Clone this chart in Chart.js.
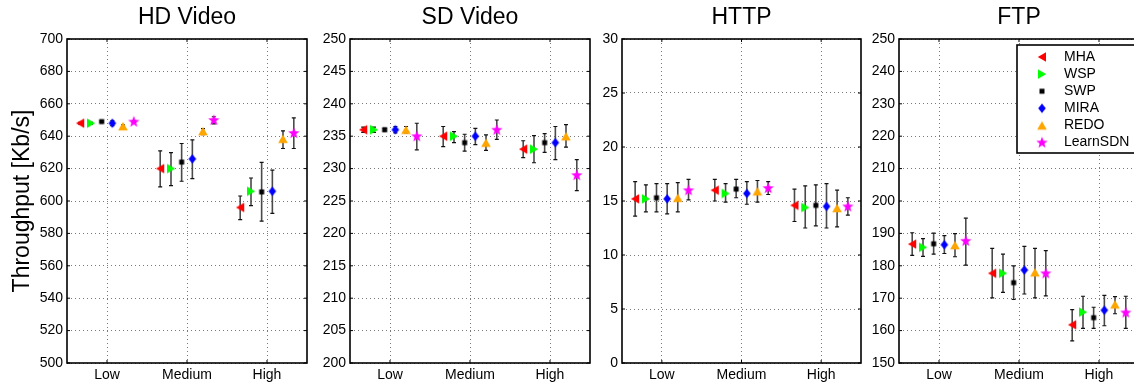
<!DOCTYPE html>
<html>
<head>
<meta charset="utf-8">
<script src="https://cdn.jsdelivr.net/npm/chart.js@4.4.1/dist/chart.umd.min.js"></script>
<style>
  html, body { margin: 0; padding: 0; background: #fff; overflow: hidden; width: 1134px; height: 382px; }
  .panel { position: absolute; top: 0; height: 382px; }
</style>
</head>
<body>
<div class="panel" style="left:0px"><canvas id="hd" width="313" height="382"></canvas></div>
<div class="panel" style="left:305px"><canvas id="sd" width="291" height="382"></canvas></div>
<div class="panel" style="left:577px"><canvas id="http" width="290" height="382"></canvas></div>
<div class="panel" style="left:854px"><canvas id="ftp" width="291" height="382"></canvas></div>
<script>
const categories = ["Low", "Medium", "High"];
const methods = ["MHA", "WSP", "SWP", "MIRA", "REDO", "LearnSDN"];

// one row per method, columns Low / Medium / High
const hdMean = [
  [648, 620, 596],
  [648, 620, 606],
  [649, 624, 605.6],
  [648, 626, 606],
  [646.2, 643.1, 638.4],
  [649, 650, 642]
];
const hdLo = [
  [647.5, 608.7, 588.5],
  [647.5, 609.5, 597.1],
  [648.5, 612.2, 587.6],
  [646.5, 613.8, 592.4],
  [645, 641, 632.4],
  [648.5, 647.6, 632.4]
];
const hdHi = [
  [648.5, 630.9, 603.1],
  [648.5, 629.9, 614.2],
  [649.5, 635.5, 623.9],
  [649.5, 637.7, 619],
  [647, 644.7, 643.3],
  [649.5, 652, 651.3]
];

const sdMean = [
  [236, 235, 233],
  [236, 235, 233],
  [236, 234, 234],
  [236, 235, 234],
  [236, 234, 235],
  [235, 236, 229]
];
const sdLo = [
  [235.6, 233.4, 231.7],
  [235.6, 234.0, 230.9],
  [235.8, 232.7, 232.5],
  [235.5, 233.7, 231.4],
  [235.5, 232.8, 233.3],
  [232.9, 234.5, 226.6]
];
const sdHi = [
  [236.4, 236.5, 234.3],
  [236.4, 235.7, 235.1],
  [236.2, 235.3, 235.4],
  [236.5, 236.2, 236.5],
  [236.5, 235.2, 236.8],
  [237.0, 237.5, 231.4]
];

const httpMean = [
  [15.2, 16.0, 14.6],
  [15.2, 15.7, 14.4],
  [15.3, 16.1, 14.6],
  [15.2, 15.7, 14.5],
  [15.3, 15.9, 14.35],
  [16.0, 16.2, 14.5]
];
const httpLo = [
  [13.6, 15.0, 13.1],
  [14.0, 14.9, 12.5],
  [14.0, 15.3, 12.7],
  [13.8, 14.7, 12.5],
  [14.0, 14.9, 12.6],
  [15.1, 15.6, 13.7]
];
const httpHi = [
  [16.8, 17.0, 16.1],
  [16.5, 16.6, 16.4],
  [16.6, 17.0, 16.5],
  [16.6, 16.8, 16.6],
  [16.7, 16.9, 16.0],
  [17.0, 16.8, 15.3]
];

const ftpMean = [
  [186.7, 177.7, 161.8],
  [185.7, 177.7, 165.7],
  [186.8, 174.8, 164.0],
  [186.5, 178.7, 166.3],
  [186.4, 178.0, 168.1],
  [187.7, 177.7, 165.6]
];
const ftpLo = [
  [183.2, 170.1, 156.8],
  [182.9, 171.8, 160.7],
  [183.6, 169.6, 160.7],
  [183.8, 171.3, 161.5],
  [182.8, 170.1, 165.2],
  [180.2, 170.7, 160.7]
];
const ftpHi = [
  [190.2, 185.4, 166.5],
  [188.4, 183.6, 170.6],
  [190.1, 180.0, 167.2],
  [189.3, 186.0, 170.9],
  [189.9, 185.4, 170.5],
  [194.7, 184.7, 170.6]
];

// dodge of each method around its category
const offsets = [-0.335, -0.2, -0.067, 0.067, 0.2, 0.335];
const colors = ["#ff0000", "#00ff00", "#000000", "#0000ff", "#ffa500", "#ff00ff"];
const shapes = ["left", "right", "square", "diamond", "up", "star"];

Chart.defaults.font.family = "'Liberation Sans', Arial, Helvetica, sans-serif";
Chart.defaults.color = "#000";

function marker(kind, color) {
  const c = document.createElement("canvas");
  c.width = 14; c.height = 14;
  const g = c.getContext("2d");
  g.fillStyle = color;
  g.beginPath();
  if (kind === "left") {
    g.moveTo(2.8, 7); g.lineTo(11, 2.3); g.lineTo(11, 11.7);
  } else if (kind === "right") {
    g.moveTo(11.2, 7); g.lineTo(3, 2.3); g.lineTo(3, 11.7);
  } else if (kind === "square") {
    g.rect(4.5, 4.5, 5, 5);
  } else if (kind === "diamond") {
    g.moveTo(7, 2.2); g.lineTo(10.8, 7); g.lineTo(7, 11.8); g.lineTo(3.2, 7);
  } else if (kind === "up") {
    g.moveTo(7, 2.8); g.lineTo(11.8, 11.2); g.lineTo(2.2, 11.2);
  } else {
    for (let k = 0; k < 10; k++) {
      const r = k % 2 ? 2.5 : 6;
      const a = -Math.PI / 2 + k * Math.PI / 5;
      const px = 7 + r * Math.cos(a), py = 7.3 + r * Math.sin(a);
      k ? g.lineTo(px, py) : g.moveTo(px, py);
    }
  }
  g.closePath();
  g.fill();
  return c;
}
const markers = shapes.map((s, i) => marker(s, colors[i]));

const errorBars = {
  id: "errorBars",
  beforeDatasetsDraw(chart) {
    const { ctx, scales: { x, y } } = chart;
    ctx.save();
    chart.data.datasets.forEach(ds => {
      ds.data.forEach((p, j) => {
        const px = x.getPixelForValue(p.x);
        const yl = y.getPixelForValue(ds.errLo[j]);
        const yh = y.getPixelForValue(ds.errHi[j]);
        ctx.strokeStyle = "#4a4a4a";
        ctx.lineWidth = 1.6;
        ctx.beginPath();
        ctx.moveTo(px, yl); ctx.lineTo(px, yh);
        ctx.stroke();
        ctx.strokeStyle = "#111";
        ctx.lineWidth = 1.2;
        ctx.beginPath();
        ctx.moveTo(px - 2, yl); ctx.lineTo(px + 2, yl);
        ctx.moveTo(px - 2, yh); ctx.lineTo(px + 2, yh);
        ctx.stroke();
      });
    });
    ctx.restore();
  }
};

const frame = {
  id: "frame",
  afterDraw(chart) {
    const { ctx, chartArea: a, scales: { x, y } } = chart;
    ctx.save();
    ctx.strokeStyle = "#000";
    ctx.lineWidth = 1;
    ctx.beginPath();
    x.ticks.forEach(t => {
      const px = x.getPixelForValue(t.value);
      ctx.moveTo(px, a.top); ctx.lineTo(px, a.top + 3);
      ctx.moveTo(px, a.bottom); ctx.lineTo(px, a.bottom - 3);
    });
    y.ticks.forEach(t => {
      const py = y.getPixelForValue(t.value);
      ctx.moveTo(a.left, py); ctx.lineTo(a.left + 3, py);
      ctx.moveTo(a.right, py); ctx.lineTo(a.right - 3, py);
    });
    ctx.stroke();
    ctx.lineWidth = 1.6;
    ctx.strokeRect(a.left, a.top, a.right - a.left, a.bottom - a.top);
    ctx.restore();
  }
};

const boxLegend = {
  id: "boxLegend",
  afterDraw(chart) {
    if (!chart.options.plugins.boxLegend.show) return;
    const { ctx, chartArea: a } = chart;
    const left = a.left + 118, top = 45, right = a.right - 4, bottom = 153;
    ctx.save();
    ctx.fillStyle = "#fff";
    ctx.fillRect(left, top, right - left, bottom - top);
    ctx.strokeStyle = "#000";
    ctx.lineWidth = 1.6;
    ctx.strokeRect(left, top, right - left, bottom - top);
    ctx.font = "14px 'Liberation Sans', Arial, sans-serif";
    ctx.fillStyle = "#000";
    ctx.textBaseline = "middle";
    methods.forEach((m, i) => {
      const yy = 57 + i * 17.1;
      ctx.drawImage(markers[i], left + 25 - 7, yy - 7);
      ctx.fillText(m, left + 47, yy);
    });
    ctx.restore();
  }
};

function makePanel(id, title, mean, lo, hi, yMin, yMax, step, axisW, yTitle, legend) {
  const datasets = methods.map((m, i) => ({
    label: m,
    data: categories.map((c, j) => ({ x: j + 1 + offsets[i], y: mean[i][j] })),
    errLo: lo[i],
    errHi: hi[i],
    pointStyle: markers[i],
    pointRadius: 5,
    pointHoverRadius: 5,
    showLine: false
  }));

  return new Chart(document.getElementById(id), {
    type: "scatter",
    data: { datasets },
    plugins: [errorBars, frame, boxLegend],
    options: {
      responsive: false,
      animation: false,
      events: [],
      layout: { padding: { left: 0, right: 3, top: 0, bottom: 0 } },
      plugins: {
        legend: { display: false },
        tooltip: { enabled: false },
        title: {
          display: true,
          text: title,
          fullSize: false,
          color: "#000",
          font: { size: 23, weight: "normal" },
          padding: { top: 4, bottom: 7.4 }
        },
        boxLegend: { show: legend }
      },
      scales: {
        x: {
          type: "linear",
          min: 0.5,
          max: 3.5,
          afterBuildTicks: s => { s.ticks = categories.map((c, j) => ({ value: j + 1 })); },
          afterFit: s => { s.height = 19; },
          ticks: {
            autoSkip: false,
            maxRotation: 0,
            padding: 4,
            font: { size: 14 },
            callback: v => categories[Math.round(v) - 1]
          },
          grid: { color: "#7a7a7a", lineWidth: 1, drawTicks: false },
          border: { display: false, dash: [1, 3] }
        },
        y: {
          min: yMin,
          max: yMax,
          afterFit: s => { s.width = axisW; },
          ticks: { stepSize: step, padding: 4, font: { size: 14 } },
          grid: { color: "#7a7a7a", lineWidth: 1, drawTicks: false },
          border: { display: false, dash: [1, 3] },
          title: {
            display: !!yTitle,
            text: yTitle || "",
            color: "#000",
            font: { size: 23, weight: "normal" },
            padding: { top: 9, bottom: 0 }
          }
        }
      }
    }
  });
}

makePanel("hd", "HD Video", hdMean, hdLo, hdHi, 500, 700, 20, 67, "Throughput [Kb/s]", false);
makePanel("sd", "SD Video", sdMean, sdLo, sdHi, 200, 250, 5, 45, null, false);
makePanel("http", "HTTP", httpMean, httpLo, httpHi, 0, 30, 5, 45, null, false);
makePanel("ftp", "FTP", ftpMean, ftpLo, ftpHi, 150, 250, 10, 45, null, true);
</script>
</body>
</html>
